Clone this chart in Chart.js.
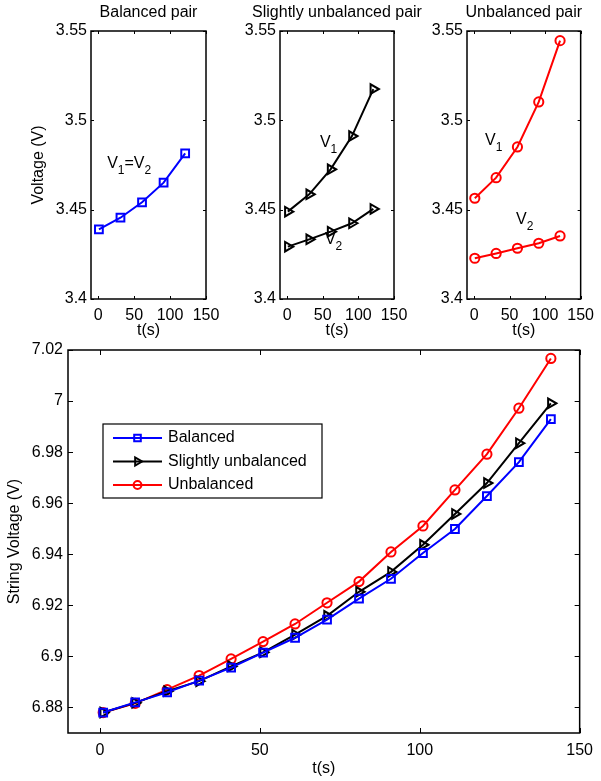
<!DOCTYPE html>
<html>
<head>
<meta charset="utf-8">
<script src="https://cdn.jsdelivr.net/npm/chart.js@4"></script>
<style>
  body { margin: 0; background: #fff; }
  #wrap { position: relative; width: 601px; height: 781px; }
  canvas { position: absolute; left: 0; top: 0; }
</style>
</head>
<body>
<div id="wrap">
  <canvas id="pairBalanced" width="601" height="781"></canvas>
  <canvas id="pairSlight" width="601" height="781"></canvas>
  <canvas id="pairUnbalanced" width="601" height="781"></canvas>
  <canvas id="string" width="601" height="781"></canvas>
</div>
<script>
// cell voltages of each pair (V), sampled every 30 s
const tPair = [1, 31, 61, 91, 121];
const balancedV = [3.439, 3.4455, 3.4541, 3.4651, 3.4815];
const slightV1 = [3.4489, 3.4586, 3.4726, 3.4912, 3.5175];
const slightV2 = [3.4293, 3.4334, 3.4377, 3.4424, 3.4504];
const unbalV1 = [3.4564, 3.4679, 3.4851, 3.5103, 3.5446];
const unbalV2 = [3.4228, 3.4255, 3.4284, 3.4312, 3.4353];

// string voltage (V), sampled every 10 s
const tString = [1, 11, 21, 31, 41, 51, 61, 71, 81, 91, 101, 111, 121, 131, 141];
const stringBalanced = [6.878, 6.882, 6.8859, 6.8905, 6.8956, 6.9015, 6.9073, 6.9144, 6.9226, 6.9304, 6.9405, 6.9499, 6.9628, 6.9761, 6.9929];
const stringSlight = [6.878, 6.8818, 6.8864, 6.8903, 6.8961, 6.9016, 6.9085, 6.9159, 6.9253, 6.9331, 6.9437, 6.9558, 6.9679, 6.9835, 6.9991];
const stringUnbal = [6.878, 6.8816, 6.887, 6.8925, 6.899, 6.9058, 6.9127, 6.921, 6.9293, 6.9409, 6.9511, 6.9652, 6.9792, 6.9972, 7.0167];

const xTicks = [0, 50, 100, 150];
const yTicksPair = [3.4, 3.45, 3.5, 3.55];
const yTicksString = [6.88, 6.9, 6.92, 6.94, 6.96, 6.98, 7, 7.02];

const BLUE = '#0000ff', BLACK = '#000000', RED = '#ff0000';
const FONT = '"Liberation Sans", Arial, Helvetica, sans-serif';

Chart.defaults.font.family = FONT;
Chart.defaults.font.size = 16;
Chart.defaults.color = '#000';

const pts = (xs, ys) => xs.map((x, i) => ({ x: x, y: ys[i] }));

const marker = {
  square: { pointStyle: 'rect', pointRadius: 5.5, rotation: 0 },
  tri: { pointStyle: 'triangle', pointRadius: 5.5, rotation: 90 },
  circle: { pointStyle: 'circle', pointRadius: 4.6, rotation: 0 }
};

function series(label, xs, ys, color, m) {
  return {
    label: label,
    data: pts(xs, ys),
    borderColor: color,
    borderWidth: 2,
    pointBackgroundColor: 'rgba(0,0,0,0)',
    pointBorderColor: color,
    pointBorderWidth: 2,
    pointStyle: m.pointStyle,
    pointRadius: m.pointRadius,
    pointRotation: m.rotation,
    tension: 0
  };
}

// box around the plot with matlab-like inward ticks on all four sides
const boxTicks = {
  id: 'boxTicks',
  beforeDatasetsDraw(chart, args, opts) {
    const { ctx, chartArea: a, scales: { x, y } } = chart;
    const len = opts.len || 4;
    ctx.save();
    ctx.strokeStyle = '#000';
    ctx.lineWidth = 1;
    ctx.beginPath();
    x.ticks.forEach(t => {
      const px = Math.round(x.getPixelForValue(t.value)) + 0.5;
      ctx.moveTo(px, a.bottom); ctx.lineTo(px, a.bottom - len);
      ctx.moveTo(px, a.top); ctx.lineTo(px, a.top + len);
    });
    y.ticks.forEach(t => {
      const py = Math.round(y.getPixelForValue(t.value)) + 0.5;
      ctx.moveTo(a.left, py); ctx.lineTo(a.left + len, py);
      ctx.moveTo(a.right, py); ctx.lineTo(a.right - len, py);
    });
    ctx.stroke();
    ctx.lineWidth = 1.5;
    ctx.strokeRect(a.left, a.top, a.right - a.left, a.bottom - a.top);
    ctx.restore();
  }
};

// title centred over the plot box, allowed to run wider than it
const panelTitle = {
  id: 'panelTitle',
  afterDraw(chart, args, opts) {
    if (!opts.text) return;
    const { ctx, chartArea: a } = chart;
    ctx.save();
    ctx.fillStyle = '#000';
    ctx.font = '16px ' + FONT;
    ctx.textAlign = 'center';
    ctx.textBaseline = 'middle';
    ctx.fillText(opts.text, (a.left + a.right) / 2, a.top - 18);
    ctx.restore();
  }
};

// "V1" style labels next to the curves, placed in data units
const curveLabels = {
  id: 'curveLabels',
  afterDatasetsDraw(chart, args, opts) {
    const items = opts.items || [];
    const { ctx, scales: { x, y } } = chart;
    ctx.save();
    ctx.fillStyle = '#000';
    ctx.textBaseline = 'middle';
    ctx.textAlign = 'left';
    items.forEach(it => {
      let px = x.getPixelForValue(it.x);
      const py = y.getPixelForValue(it.y);
      it.parts.forEach(([txt, sub]) => {
        ctx.font = (sub ? '12px ' : '16px ') + FONT;
        ctx.fillText(txt, px, sub ? py + 7 : py);
        px += ctx.measureText(txt).width;
      });
    });
    ctx.restore();
  }
};

// legend with line + marker samples, drawn inside the plot
const lineLegend = {
  id: 'lineLegend',
  afterDraw(chart, args, opts) {
    if (!opts.show) return;
    const { ctx, chartArea: a } = chart;
    const left = a.left + opts.dx, top = a.top + opts.dy;
    const rowH = 23.5, w = 219, h = 74;
    ctx.save();
    ctx.fillStyle = '#fff';
    ctx.fillRect(left, top, w, h);
    ctx.strokeStyle = '#000';
    ctx.lineWidth = 1.2;
    ctx.strokeRect(left, top, w, h);
    chart.data.datasets.forEach((ds, i) => {
      const cy = top + 14 + i * rowH;
      ctx.strokeStyle = ds.borderColor;
      ctx.lineWidth = 2;
      ctx.beginPath();
      ctx.moveTo(left + 10, cy); ctx.lineTo(left + 59, cy);
      ctx.stroke();
      ctx.fillStyle = 'rgba(0,0,0,0)';
      Chart.helpers.drawPoint(ctx, {
        pointStyle: ds.pointStyle, rotation: ds.pointRotation,
        radius: ds.pointRadius * 0.85, borderWidth: 2
      }, left + 34.5, cy);
      ctx.fillStyle = '#000';
      ctx.font = '16px ' + FONT;
      ctx.textBaseline = 'middle';
      ctx.fillText(ds.label, left + 65, cy);
    });
    ctx.restore();
  }
};

function makePanel(id, o) {
  return new Chart(document.getElementById(id), {
    type: 'line',
    data: { datasets: o.datasets },
    plugins: [boxTicks, panelTitle, curveLabels, lineLegend],
    options: {
      responsive: false,
      animation: false,
      devicePixelRatio: 1,
      layout: { padding: o.pad },
      plugins: {
        legend: { display: false },
        tooltip: { enabled: false },
        panelTitle: { text: o.title || '' },
        boxTicks: { len: o.tickLen },
        curveLabels: { items: o.labels || [] },
        lineLegend: o.legend || { show: false }
      },
      scales: {
        x: {
          type: 'linear', min: -10, max: 150,
          grid: { display: false, drawTicks: false }, border: { display: false },
          afterBuildTicks: s => { s.ticks = xTicks.map(v => ({ value: v })); },
          ticks: { padding: o.xTickPad, callback: v => String(v) },
          title: { display: true, text: 't(s)', padding: { top: 0, bottom: o.xTitlePad } },
          afterFit: s => { s.height = o.xH; }
        },
        y: {
          type: 'linear', min: o.yMin, max: o.yMax,
          grid: { display: false, drawTicks: false }, border: { display: false },
          afterBuildTicks: s => { s.ticks = o.yTicks.map(v => ({ value: v })); },
          ticks: { padding: o.yTickPad, callback: v => String(v) },
          title: { display: !!o.yTitle, text: o.yTitle || '', padding: { top: o.yTitlePad, bottom: 0 } },
          afterFit: s => { s.width = o.yW; }
        }
      }
    }
  });
}

const topPanel = {
  yMin: 3.4, yMax: 3.55, yTicks: yTicksPair, xH: 45, xTitlePad: 3.4,
  xTickPad: 7, yTickPad: 4, tickLen: 3
};

makePanel('pairBalanced', Object.assign({}, topPanel, {
  title: 'Balanced pair', yTitle: 'Voltage (V)', yTitlePad: 29.4,
  pad: { left: 0, right: 395, top: 31, bottom: 437 }, yW: 91,
  datasets: [series('V1=V2', tPair, balancedV, BLUE, marker.square)],
  labels: [{ x: 12.5, y: 3.476, parts: [['V', 0], ['1', 1], ['=V', 0], ['2', 1]] }]
}));

makePanel('pairSlight', Object.assign({}, topPanel, {
  title: 'Slightly unbalanced pair',
  pad: { left: 230, right: 207, top: 31, bottom: 437 }, yW: 50,
  datasets: [
    series('V1', tPair, slightV1, BLACK, marker.tri),
    series('V2', tPair, slightV2, BLACK, marker.tri)
  ],
  labels: [
    { x: 46, y: 3.4873, parts: [['V', 0], ['1', 1]] },
    { x: 53, y: 3.433, parts: [['V', 0], ['2', 1]] }
  ]
}));

makePanel('pairUnbalanced', Object.assign({}, topPanel, {
  title: 'Unbalanced pair',
  pad: { left: 417, right: 18, top: 31, bottom: 437 }, yW: 50,
  datasets: [
    series('V1', tPair, unbalV1, RED, marker.circle),
    series('V2', tPair, unbalV2, RED, marker.circle)
  ],
  labels: [
    { x: 15.5, y: 3.4884, parts: [['V', 0], ['1', 1]] },
    { x: 59, y: 3.4442, parts: [['V', 0], ['2', 1]] }
  ]
}));

makePanel('string', {
  yMin: 6.87, yMax: 7.02, yTicks: yTicksString, xH: 48, xTitlePad: 2.4,
  xTickPad: 8, yTickPad: 5, tickLen: 5,
  yTitle: 'String Voltage (V)', yTitlePad: 5.4,
  pad: { left: 0, right: 12, top: 350, bottom: 0 }, yW: 68,
  datasets: [
    series('Balanced', tString, stringBalanced, BLUE, marker.square),
    series('Slightly unbalanced', tString, stringSlight, BLACK, marker.tri),
    series('Unbalanced', tString, stringUnbal, RED, marker.circle)
  ],
  legend: { show: true, dx: 35, dy: 74 }
});
</script>
</body>
</html>
